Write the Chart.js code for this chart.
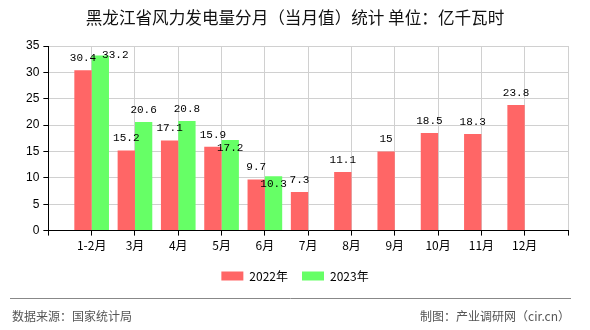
<!DOCTYPE html>
<html>
<head>
<meta charset="utf-8">
<script src="https://cdn.jsdelivr.net/npm/chart.js@4.4.1/dist/chart.umd.min.js"></script>
<style>
  html, body { margin: 0; padding: 0; background: #fff; }
  #wrap { width: 590px; height: 330px; }
</style>
</head>
<body>
<div id="wrap"><canvas id="myChart" width="590" height="330"></canvas></div>
<script>
const months = ['1-2月', '3月', '4月', '5月', '6月', '7月', '8月', '9月', '10月', '11月', '12月'];
const data2022 = [30.4, 15.2, 17.1, 15.9, 9.7, 7.3, 11.1, 15, 18.5, 18.3, 23.8];
const data2023 = [33.2, 20.6, 20.8, 17.2, 10.3];
const yTicks = [0, 5, 10, 15, 20, 25, 30, 35];

const titleText = '黑龙江省风力发电量分月（当月值）统计 单位：亿千瓦时';
const sourceText = '数据来源：国家统计局';
const makerText = '制图：产业调研网（cir.cn）';

const CJK = '"Noto Sans CJK SC", "Noto Sans", sans-serif';

// 两端各留一个空格位，让柱子落在网格线上
function pad(arr) {
  const out = [null];
  for (let i = 0; i < months.length; i++) out.push(i < arr.length ? arr[i] : null);
  out.push(null);
  return out;
}

// 标题和底部来源
const framePlugin = {
  id: 'frame',
  afterDraw(chart) {
    const ctx = chart.ctx;
    ctx.save();
    ctx.fillStyle = '#111';
    ctx.font = '16.6px ' + CJK;
    ctx.textAlign = 'center';
    ctx.textBaseline = 'middle';
    ctx.fillText(titleText, 295, 18);

    ctx.strokeStyle = '#888';
    ctx.lineWidth = 1;
    ctx.beginPath();
    ctx.moveTo(10, 298.5);
    ctx.lineTo(571, 298.5);
    ctx.stroke();

    ctx.fillStyle = '#555';
    ctx.font = '12px ' + CJK;
    ctx.textAlign = 'left';
    ctx.fillText(sourceText, 12, 316);
    ctx.textAlign = 'right';
    ctx.fillText(makerText, 570, 316);
    ctx.restore();
  }
};

// 柱顶数值：2023年的数字和2022年的挤在一起时往下挪
const valuePlugin = {
  id: 'values',
  afterDatasetsDraw(chart) {
    const ctx = chart.ctx;
    const area = chart.chartArea;
    ctx.save();
    ctx.font = '11px "Liberation Mono", monospace';
    ctx.fillStyle = '#000';
    ctx.textAlign = 'center';
    ctx.textBaseline = 'middle';
    const redBoxes = {};
    chart.data.datasets.forEach((ds, di) => {
      const meta = chart.getDatasetMeta(di);
      meta.data.forEach((bar, i) => {
        const v = ds.data[i];
        if (v === null || v === undefined) return;
        const label = String(v);
        const w = ctx.measureText(label).width;
        let x = bar.x;
        let y = bar.y - 12;
        if (di === 1) {
          const r = redBoxes[i];
          const overlap = r && Math.abs(r.x - x) < (r.w + w) / 2 && Math.abs(r.y - y) < 12;
          if (y < area.top) {
            x += 15; y = bar.y;
          } else if (overlap) {
            y = bar.y + 8;
          }
        } else {
          redBoxes[i] = { x: x, y: y, w: w };
        }
        ctx.fillText(label, x, y);
      });
    });
    ctx.restore();
  }
};

new Chart(document.getElementById('myChart'), {
  type: 'bar',
  data: {
    labels: [''].concat(months, ['']),
    datasets: [
      {
        label: '2022年',
        data: pad(data2022),
        backgroundColor: '#ff6666',
        categoryPercentage: 0.8,
        barPercentage: 1
      },
      {
        label: '2023年',
        data: pad(data2023),
        backgroundColor: '#66ff66',
        categoryPercentage: 0.8,
        barPercentage: 1
      }
    ]
  },
  options: {
    responsive: false,
    animation: false,
    devicePixelRatio: 1,
    layout: { padding: { left: 22, right: 22, top: 46, bottom: 38 } },
    plugins: {
      title: { display: false },
      tooltip: { enabled: false },
      legend: {
        position: 'bottom',
        labels: {
          boxWidth: 22,
          boxHeight: 9,
          padding: 14,
          color: '#000',
          font: { size: 12, family: CJK }
        }
      }
    },
    scales: {
      x: {
        offset: false,
        grid: { offset: false, color: '#d0d0d0', tickColor: '#000', tickLength: 5 },
        border: { color: '#000', width: 1 },
        ticks: {
          autoSkip: false,
          maxRotation: 0,
          padding: 3,
          color: '#000',
          font: { size: 12, family: CJK }
        }
      },
      y: {
        min: 0,
        max: 35,
        afterBuildTicks(scale) { scale.ticks = yTicks.map(v => ({ value: v })); },
        grid: { color: '#d0d0d0', tickColor: '#000', tickLength: 5 },
        border: { color: '#000', width: 1 },
        ticks: {
          padding: 4,
          color: '#000',
          font: { size: 12, family: '"Liberation Sans", sans-serif' }
        }
      }
    }
  },
  plugins: [framePlugin, valuePlugin]
});
</script>
</body>
</html>
